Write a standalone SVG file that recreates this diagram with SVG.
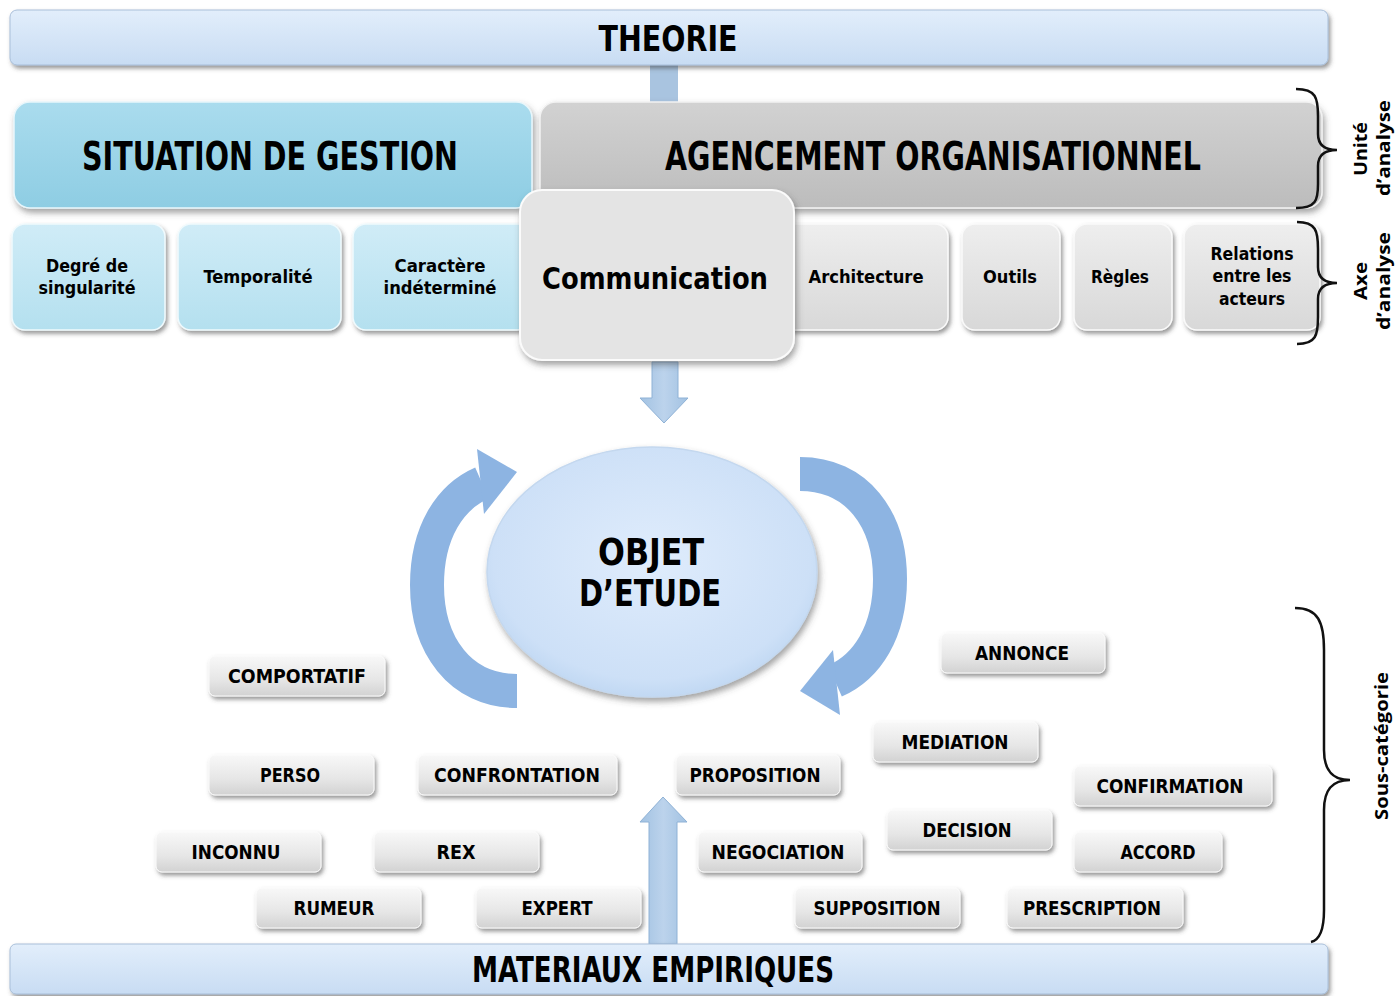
<svg xmlns="http://www.w3.org/2000/svg" width="1395" height="996" viewBox="0 0 1395 996">
<defs>
  <linearGradient id="gBar" x1="0" y1="0" x2="0" y2="1">
    <stop offset="0" stop-color="#e2eefb"/><stop offset="1" stop-color="#c8dcf3"/>
  </linearGradient>
  <linearGradient id="gSit" x1="0" y1="0" x2="0" y2="1">
    <stop offset="0" stop-color="#aadcee"/><stop offset="1" stop-color="#8ecde3"/>
  </linearGradient>
  <linearGradient id="gSitSub" x1="0" y1="0" x2="0" y2="1">
    <stop offset="0" stop-color="#d0ecf7"/><stop offset="1" stop-color="#b4e0ef"/>
  </linearGradient>
  <linearGradient id="gAg" x1="0" y1="0" x2="0" y2="1">
    <stop offset="0" stop-color="#d2d2d2"/><stop offset="1" stop-color="#bcbcbc"/>
  </linearGradient>
  <linearGradient id="gAgSub" x1="0" y1="0" x2="0" y2="1">
    <stop offset="0" stop-color="#eeeeee"/><stop offset="1" stop-color="#d8d8d8"/>
  </linearGradient>
  <linearGradient id="gCat" x1="0" y1="0" x2="0" y2="1">
    <stop offset="0" stop-color="#f8f8f8"/><stop offset="0.6" stop-color="#e6e6e6"/><stop offset="1" stop-color="#d2d2d2"/>
  </linearGradient>
  <linearGradient id="gArr" x1="0" y1="0" x2="1" y2="0">
    <stop offset="0" stop-color="#a2c2e2"/><stop offset="0.5" stop-color="#bcd3ec"/><stop offset="1" stop-color="#a2c2e2"/>
  </linearGradient>
  <radialGradient id="gEll" cx="0.5" cy="0.45" r="0.6">
    <stop offset="0" stop-color="#dfecfc"/><stop offset="0.8" stop-color="#cde0f7"/><stop offset="1" stop-color="#b9d3f0"/>
  </radialGradient>
  <filter id="sh" x="-10%" y="-20%" width="120%" height="150%">
    <feDropShadow dx="2" dy="3" stdDeviation="2" flood-color="#444" flood-opacity="0.55"/>
  </filter>
  <filter id="shL" x="-10%" y="-20%" width="120%" height="150%">
    <feDropShadow dx="2" dy="4" stdDeviation="3" flood-color="#444" flood-opacity="0.5"/>
  </filter>
  <style>
    .bar{fill:url(#gBar);stroke:#a9bfd9;stroke-width:1;filter:url(#sh)}
    .sit{fill:url(#gSit);stroke:#e8f6fb;stroke-width:1.5;filter:url(#shL)}
    .sitsub{fill:url(#gSitSub);stroke:#f0fafd;stroke-width:1.5;filter:url(#sh)}
    .ag{fill:url(#gAg);stroke:#f2f2f2;stroke-width:1.5;filter:url(#shL)}
    .agsub{fill:url(#gAgSub);stroke:#fafafa;stroke-width:1.5;filter:url(#sh)}
    .cat{fill:url(#gCat);stroke:#fbfbfb;stroke-width:1;filter:url(#sh)}
    .t{font-family:"DejaVu Sans Condensed","Liberation Sans",sans-serif;font-weight:bold;fill:#000;text-anchor:middle}
    .sub{font-size:18px}
    .lab{font-size:19px}
    .side{font-family:"Open Sans","Liberation Sans",sans-serif;font-weight:bold;font-size:17px;fill:#000;text-anchor:middle}
    .brace{fill:none;stroke:#111;stroke-width:2.5}
    .arc{fill:none;stroke:#8db4e2;stroke-width:34}
    .arch{fill:#8db4e2}
    .blk{fill:url(#gArr);stroke:#8fb2d6;stroke-width:1}
  </style>
</defs>

<g id="connectors">
  <rect x="650" y="64" width="28" height="40" fill="#a9c4e0"/>
  <polygon class="blk" points="652,362 678,362 678,398 688,398 664,423 640,398 652,398"/>
  <polygon class="blk" points="649,944 677,944 677,822 687,822 663,797 640,822 649,822"/>
  <path class="arc" d="M517,691 C460,691 427,645 427,585 C427,532 450,497 482,483"/>
  <polygon class="arch" points="477,449 517,472 484,514"/>
  <path class="arc" d="M800,474 C857,474 890,519 890,579 C890,632 867,667 835,681"/>
  <polygon class="arch" points="840,715 800,691 833,650"/>
</g>

<g id="theorie">
  <rect class="bar" x="10" y="10" width="1318" height="55" rx="7"/>
  <text class="t" x="668" y="51" font-size="36" textLength="139" lengthAdjust="spacingAndGlyphs">THEORIE</text>
</g>

<g id="situation">
  <rect class="sit" x="14" y="102" width="518" height="106" rx="16"/>
  <text class="t" x="270" y="170" font-size="39" textLength="376" lengthAdjust="spacingAndGlyphs">SITUATION DE  GESTION</text>
</g>

<g id="agencement">
  <rect class="ag" x="540" y="102" width="782" height="106" rx="16"/>
  <text class="t" x="933" y="170" font-size="39" textLength="536" lengthAdjust="spacingAndGlyphs">AGENCEMENT ORGANISATIONNEL</text>
</g>

<g id="degre">
  <rect class="sitsub" x="12" y="224" width="153" height="106" rx="13"/>
  <text class="t sub" x="87" y="272" textLength="82" lengthAdjust="spacingAndGlyphs">Degré de</text>
  <text class="t sub" x="87" y="294" textLength="97" lengthAdjust="spacingAndGlyphs">singularité</text>
</g>
<g id="temporalite">
  <rect class="sitsub" x="178" y="224" width="163" height="106" rx="13"/>
  <text class="t sub" x="258" y="283" textLength="109" lengthAdjust="spacingAndGlyphs">Temporalité</text>
</g>
<g id="caractere">
  <rect class="sitsub" x="353" y="224" width="177" height="106" rx="13"/>
  <text class="t sub" x="440" y="272" textLength="91" lengthAdjust="spacingAndGlyphs">Caractère</text>
  <text class="t sub" x="440" y="294" textLength="113" lengthAdjust="spacingAndGlyphs">indéterminé</text>
</g>
<g id="architecture">
  <rect class="agsub" x="780" y="224" width="168" height="106" rx="13"/>
  <text class="t sub" x="866" y="283" textLength="115" lengthAdjust="spacingAndGlyphs">Architecture</text>
</g>
<g id="outils">
  <rect class="agsub" x="962" y="224" width="98" height="106" rx="13"/>
  <text class="t sub" x="1010" y="283" textLength="54" lengthAdjust="spacingAndGlyphs">Outils</text>
</g>
<g id="regles">
  <rect class="agsub" x="1074" y="224" width="98" height="106" rx="13"/>
  <text class="t sub" x="1120" y="283" textLength="58" lengthAdjust="spacingAndGlyphs">Règles</text>
</g>
<g id="relations">
  <rect class="agsub" x="1184" y="224" width="136" height="106" rx="13"/>
  <text class="t sub" x="1252" y="260" textLength="83" lengthAdjust="spacingAndGlyphs">Relations</text>
  <text class="t sub" x="1252" y="282" textLength="79" lengthAdjust="spacingAndGlyphs">entre les</text>
  <text class="t sub" x="1252" y="305" textLength="66" lengthAdjust="spacingAndGlyphs">acteurs</text>
</g>
<g id="communication">
  <rect x="520" y="190" width="274" height="170" rx="22" fill="#e4e4e4" stroke="#fbfbfb" stroke-width="2" filter="url(#shL)"/>
  <text class="t" x="655" y="289" font-size="31" textLength="226" lengthAdjust="spacingAndGlyphs">Communication</text>
</g>

<g id="objet">
  <ellipse cx="652" cy="572" rx="165" ry="125" fill="url(#gEll)" stroke="#c4d8ef" stroke-width="1.5" filter="url(#shL)"/>
  <text class="t" x="651" y="565" font-size="38" textLength="106" lengthAdjust="spacingAndGlyphs">OBJET</text>
  <text class="t" x="650" y="606" font-size="38" textLength="142" lengthAdjust="spacingAndGlyphs">D’ETUDE</text>
</g>

<g id="materiaux">
  <rect class="bar" x="10" y="944" width="1318" height="50" rx="6"/>
  <text class="t" x="653" y="982" font-size="36" textLength="362" lengthAdjust="spacingAndGlyphs">MATERIAUX EMPIRIQUES</text>
</g>

<g id="cat-comportatif"><rect class="cat" x="209" y="656" width="176" height="40" rx="6"/><text class="t lab" x="297" y="683" textLength="138" lengthAdjust="spacingAndGlyphs">COMPORTATIF</text></g>
<g id="cat-annonce"><rect class="cat" x="941" y="633" width="164" height="40" rx="6"/><text class="t lab" x="1022" y="660" textLength="94" lengthAdjust="spacingAndGlyphs">ANNONCE</text></g>
<g id="cat-mediation"><rect class="cat" x="873" y="722" width="165" height="40" rx="6"/><text class="t lab" x="955" y="749" textLength="107" lengthAdjust="spacingAndGlyphs">MEDIATION</text></g>
<g id="cat-perso"><rect class="cat" x="209" y="755" width="165" height="40" rx="6"/><text class="t lab" x="290" y="782" textLength="60" lengthAdjust="spacingAndGlyphs">PERSO</text></g>
<g id="cat-confrontation"><rect class="cat" x="418" y="755" width="199" height="40" rx="6"/><text class="t lab" x="517" y="782" textLength="166" lengthAdjust="spacingAndGlyphs">CONFRONTATION</text></g>
<g id="cat-proposition"><rect class="cat" x="676" y="755" width="164" height="40" rx="6"/><text class="t lab" x="755" y="782" textLength="131" lengthAdjust="spacingAndGlyphs">PROPOSITION</text></g>
<g id="cat-confirmation"><rect class="cat" x="1074" y="766" width="198" height="40" rx="6"/><text class="t lab" x="1170" y="793" textLength="147" lengthAdjust="spacingAndGlyphs">CONFIRMATION</text></g>
<g id="cat-decision"><rect class="cat" x="887" y="810" width="165" height="40" rx="6"/><text class="t lab" x="967" y="837" textLength="89" lengthAdjust="spacingAndGlyphs">DECISION</text></g>
<g id="cat-inconnu"><rect class="cat" x="156" y="832" width="165" height="40" rx="6"/><text class="t lab" x="236" y="859" textLength="89" lengthAdjust="spacingAndGlyphs">INCONNU</text></g>
<g id="cat-rex"><rect class="cat" x="374" y="832" width="165" height="40" rx="6"/><text class="t lab" x="456" y="859" textLength="39" lengthAdjust="spacingAndGlyphs">REX</text></g>
<g id="cat-negociation"><rect class="cat" x="698" y="832" width="164" height="40" rx="6"/><text class="t lab" x="778" y="859" textLength="133" lengthAdjust="spacingAndGlyphs">NEGOCIATION</text></g>
<g id="cat-accord"><rect class="cat" x="1074" y="832" width="148" height="40" rx="6"/><text class="t lab" x="1158" y="859" textLength="75" lengthAdjust="spacingAndGlyphs">ACCORD</text></g>
<g id="cat-rumeur"><rect class="cat" x="256" y="888" width="165" height="40" rx="6"/><text class="t lab" x="334" y="915" textLength="81" lengthAdjust="spacingAndGlyphs">RUMEUR</text></g>
<g id="cat-expert"><rect class="cat" x="476" y="888" width="165" height="40" rx="6"/><text class="t lab" x="557" y="915" textLength="71" lengthAdjust="spacingAndGlyphs">EXPERT</text></g>
<g id="cat-supposition"><rect class="cat" x="795" y="888" width="165" height="40" rx="6"/><text class="t lab" x="877" y="915" textLength="127" lengthAdjust="spacingAndGlyphs">SUPPOSITION</text></g>
<g id="cat-prescription"><rect class="cat" x="1007" y="888" width="176" height="40" rx="6"/><text class="t lab" x="1092" y="915" textLength="138" lengthAdjust="spacingAndGlyphs">PRESCRIPTION</text></g>

<g id="brace-unite">
  <path class="brace" d="M1296,89 C1316,89 1318,98 1318,116 L1318,134 C1318,145 1324,150 1337,150 C1324,150 1318,155 1318,166 L1318,184 C1318,200 1316,208 1296,208"/>
  <text class="side" transform="translate(1367,149) rotate(-90)" textLength="54" lengthAdjust="spacingAndGlyphs">Unité</text>
  <text class="side" transform="translate(1390,148) rotate(-90)" textLength="96" lengthAdjust="spacingAndGlyphs">d’analyse</text>
</g>
<g id="brace-axe">
  <path class="brace" d="M1297,222 C1316,222 1318,231 1318,249 L1318,267 C1318,278 1324,283 1337,283 C1324,283 1318,288 1318,299 L1318,317 C1318,335 1316,344 1297,344"/>
  <text class="side" transform="translate(1367,281) rotate(-90)" textLength="38" lengthAdjust="spacingAndGlyphs">Axe</text>
  <text class="side" transform="translate(1390,281) rotate(-90)" textLength="98" lengthAdjust="spacingAndGlyphs">d’analyse</text>
</g>
<g id="brace-sous">
  <path class="brace" d="M1295,608 C1318,608 1324,622 1324,650 L1324,750 C1324,770 1332,780 1350,780 C1332,780 1324,790 1324,810 L1324,910 C1324,930 1320,940 1311,942"/>
  <text class="side" transform="translate(1388,746) rotate(-90)" font-weight="600" textLength="148" lengthAdjust="spacingAndGlyphs">Sous-catégorie</text>
</g>
</svg>
